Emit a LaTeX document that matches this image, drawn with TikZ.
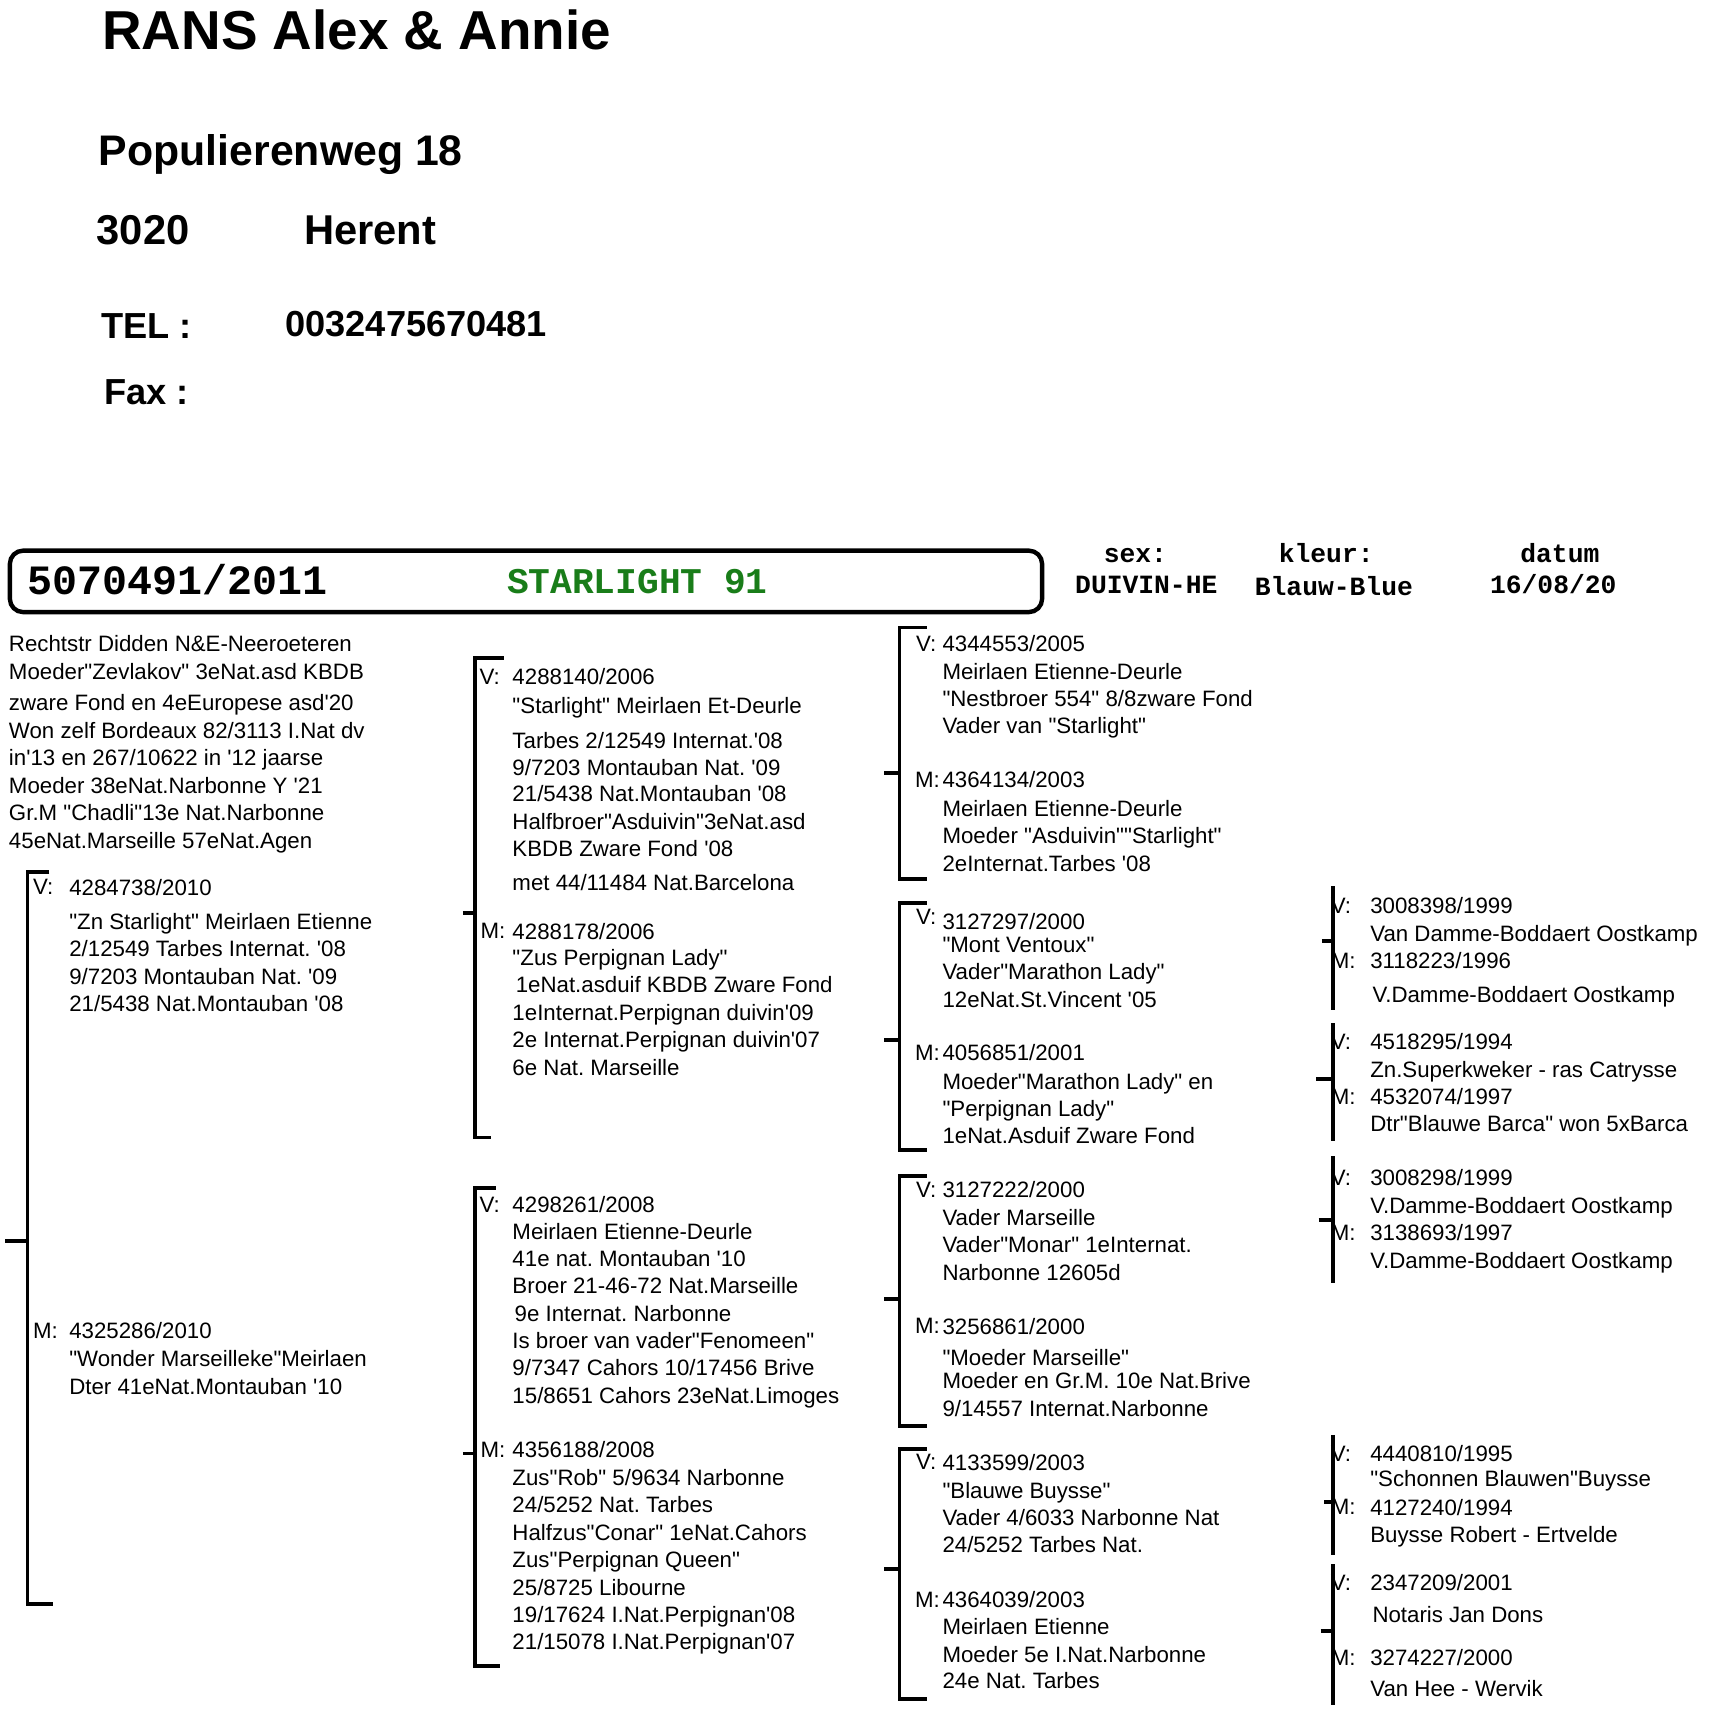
\documentclass[tikz,border=0pt]{standalone}
\usepackage{fontspec}
\setmainfont{Liberation Sans}[Ligatures=TeXOff]
\newfontfamily\typewr{Liberation Mono}[Ligatures=TeXOff]
\usetikzlibrary{positioning}
\frenchspacing
\definecolor{namegreen}{RGB}{25,125,25}
\tikzset{
  txt/.style={anchor=north west, yshift=14.8pt, inner sep=0pt, align=left, font=\fontsize{20.3}{25}\selectfont},
  lbl/.style={anchor=base west, inner sep=0pt, font=\fontsize{20.3}{25}\selectfont},
  head/.style={anchor=base west, inner sep=0pt, font=\bfseries\fontsize{#1}{#1}\selectfont},
  mono/.style={anchor=base, inner sep=0pt, font=\typewr\bfseries\fontsize{#1}{#1}\selectfont},
  brk/.style={line width=3.5pt},
}

\begin{document}
\begin{tikzpicture}[x=1pt, y=-1pt]
  \useasboundingbox (0,0) rectangle (1568,1560);
  % kop
  \node[head=50] (naam) at (93,45) {RANS Alex \& Annie};
  \node[head=39] (straat) at (90,151) {Populierenweg 18};
  \node[head=38] (post) at (88,223) {3020};
  \node[head=38] (stad) at (277,223) {Herent};
  \node[head=33] (tel) at (92,309) {TEL :};
  \node[head=33] (telnr) at (260,307) {0032475670481};
  \node[head=33] (fax) at (95,369) {Fax :};

  % ring en naam
  \node[draw, line width=4pt, rounded corners=12pt, minimum width=941pt, minimum height=56pt,
    inner sep=0pt] (kader) at (479.5,530) {};
  \node[mono=38, anchor=base west] (ring) at (25,542) {5070491/2011};
  \node[mono=33, anchor=base west, text=namegreen] (duif) at (462,541) {STARLIGHT 91};
  \node[mono=24] (sex) at (1035,513) {sex:};
  \node[mono=24] (kleur) at (1209,513) {kleur:};
  \node[mono=24] (datum) at (1422,513) {datum};
  \node[mono=24] (sexw) at (1045,541) {DUIVIN-HE};
  \node[mono=24] (kleurw) at (1216,543) {Blauw-Blue};
  \node[mono=24] (datumw) at (1416,541) {16/08/20};

  % kolom 1
  \node[txt] (info) at (8,594) {Rechtstr Didden N\&E-Neeroeteren\\ Moeder"Zevlakov" 3eNat.asd KBDB\\[4pt]
    zware Fond en 4eEuropese asd'20\\ Won zelf Bordeaux 82/3113 I.Nat dv\\ in'13 en 267/10622 in '12 jaarse\\
    Moeder 38eNat.Narbonne Y '21\\ Gr.M "Chadli"13e Nat.Narbonne\\ 45eNat.Marseille 57eNat.Agen};
  \node[lbl] (vl) at (30,815) {V:};
  \node[txt] (v) at (63,816) {4284738/2010\\[6pt] "Zn Starlight" Meirlaen Etienne\\ 2/12549 Tarbes Internat. '08\\
    9/7203 Montauban Nat. '09\\ 21/5438 Nat.Montauban '08};
  \node[lbl] (ml) at (30,1220) {M:};
  \node[txt] (m) at (63,1220) {4325286/2010\\[1pt] "Wonder Marseilleke"Meirlaen\\ Dter 41eNat.Montauban '10};

  % kolom 2
  \node[lbl] (vvl) at (437,624) {V:};
  \node[txt] (vv) at (467,624) {4288140/2006\\[1pt] "Starlight" Meirlaen Et-Deurle\\[7pt] Tarbes 2/12549 Internat.'08\\
    9/7203 Montauban Nat. '09\\[-1pt] 21/5438 Nat.Montauban '08\\ Halfbroer"Asduivin"3eNat.asd\\
    KBDB Zware Fond '08\\[6pt] met 44/11484 Nat.Barcelona};
  \node[lbl] (vml) at (438,856) {M:};
  \node[txt] (vm) at (467,856) {4288178/2006\\[-1pt] "Zus Perpignan Lady"\\ \hspace*{3pt}1eNat.asduif KBDB Zware Fond\\
    1eInternat.Perpignan duivin'09\\ 2e Internat.Perpignan duivin'07\\ 6e Nat. Marseille};
  \node[lbl] (mvl) at (437,1105) {V:};
  \node[txt] (mv) at (467,1105) {4298261/2008\\ Meirlaen Etienne-Deurle\\[-1pt] 41e nat. Montauban '10\\
    Broer 21-46-72 Nat.Marseille\\[1pt] \hspace*{2pt}9e Internat. Narbonne\\[-1pt] Is broer van vader"Fenomeen"\\
    9/7347 Cahors 10/17456 Brive\\ 15/8651 Cahors 23eNat.Limoges};
  \node[lbl] (mml) at (438,1329) {M:};
  \node[txt] (mm) at (467,1329) {4356188/2008\\ Zus"Rob" 5/9634 Narbonne\\ 24/5252 Nat. Tarbes\\
    Halfzus"Conar" 1eNat.Cahors\\ Zus"Perpignan Queen"\\ 25/8725 Libourne\\ 19/17624 I.Nat.Perpignan'08\\
    21/15078 I.Nat.Perpignan'07};

  % kolom 3
  \node[lbl] (vvvl) at (835,594) {V:};
  \node[txt] (vvv) at (859,594) {4344553/2005\\ Meirlaen Etienne-Deurle\\ "Nestbroer 554" 8/8zware Fond\\
    Vader van "Starlight"};
  \node[lbl] (vvml) at (834,718) {M:};
  \node[txt] (vvm) at (859,718) {4364134/2003\\[1pt] Meirlaen Etienne-Deurle\\ Moeder "Asduivin""Starlight"\\
    2eInternat.Tarbes '08};
  \node[lbl] (vmvl) at (835,843) {V:};
  \node[txt] (vmv) at (859,847) {3127297/2000\\[-4pt] "Mont Ventoux"\\ Vader"Marathon Lady"\\ 12eNat.St.Vincent '05};
  \node[lbl] (vmml) at (834,967) {M:};
  \node[txt] (vmm) at (859,967) {4056851/2001\\[1pt] Moeder"Marathon Lady" en\\ "Perpignan Lady"\\[-1pt]
    1eNat.Asduif Zware Fond};
  \node[lbl] (mvvl) at (835,1092) {V:};
  \node[txt] (mvv) at (859,1092) {3127222/2000\\ Vader Marseille\\ Vader"Monar" 1eInternat.\\ Narbonne 12605d};
  \node[lbl] (mvml) at (834,1216) {M:};
  \node[txt] (mvm) at (859,1216) {3256861/2000\\[4pt] "Moeder Marseille"\\[-4pt] Moeder en Gr.M. 10e Nat.Brive\\
    9/14557 Internat.Narbonne};
  \node[lbl] (mmvl) at (835,1340) {V:};
  \node[txt] (mmv) at (859,1340) {4133599/2003\\[1pt] "Blauwe Buysse"\\ Vader 4/6033 Narbonne Nat\\[-1pt]
    24/5252 Tarbes Nat.};
  \node[lbl] (mmml) at (834,1465) {M:};
  \node[txt] (mmm) at (859,1465) {4364039/2003\\ Meirlaen Etienne\\ Moeder 5e I.Nat.Narbonne\\[-1pt] 24e Nat. Tarbes};

  % kolom 4
  \node[lbl] (e1vl) at (1213,833) {V:};
  \node[txt] (e1v) at (1249,833) {3008398/1999\\ Van Damme-Boddaert Oostkamp};
  \node[lbl] (e1ml) at (1213,883) {M:};
  \node[txt] (e1m) at (1249,883) {3118223/1996\\[6pt] \hspace*{2pt}V.Damme-Boddaert Oostkamp};
  \node[lbl] (e2vl) at (1213,957) {V:};
  \node[txt] (e2v) at (1249,957) {4518295/1994\\ Zn.Superkweker - ras Catrysse};
  \node[lbl] (e2ml) at (1213,1007) {M:};
  \node[txt] (e2m) at (1249,1007) {4532074/1997\\[-1pt] Dtr"Blauwe Barca" won 5xBarca};
  \node[lbl] (e3vl) at (1213,1081) {V:};
  \node[txt] (e3v) at (1249,1081) {3008298/1999\\ V.Damme-Boddaert Oostkamp};
  \node[lbl] (e3ml) at (1213,1131) {M:};
  \node[txt] (e3m) at (1249,1131) {3138693/1997\\ V.Damme-Boddaert Oostkamp};
  \node[lbl] (e4vl) at (1213,1332) {V:};
  \node[txt] (e4v) at (1249,1332) {4440810/1995\\[-2pt] "Schonnen Blauwen"Buysse};
  \node[lbl] (e4ml) at (1213,1381) {M:};
  \node[txt] (e4m) at (1249,1381) {4127240/1994\\ Buysse Robert - Ertvelde};
  \node[lbl] (e5vl) at (1213,1450) {V:};
  \node[txt] (e5v) at (1249,1450) {2347209/2001\\[4pt] \hspace*{2pt}Notaris Jan Dons};
  \node[lbl] (e5ml) at (1213,1518) {M:};
  \node[txt] (e5m) at (1249,1518) {3274227/2000\\[3pt] Van Hee - Wervik};

  % haken: x / boven / midden / onder / tik boven / tik onder / tik links
  \foreach \x/\t/\m/\b/\tt/\tb/\tl in {25/795/1131/1462/45/48/5, 433/600/832/1037/459/448/422,
      433/1083/1325/1519/452/456/422, 820/572/705/801/845/845/806, 820/823/948/1048/845/845/806,
      820/1072/1184/1300/845/845/806, 820/1321/1430/1549/845/845/806}
    \draw[brk] (\tt,\t) -| (\x,\b) -- (\tb,\b) (\tl,\m) -- (\x,\m);
  \foreach \t/\m/\b/\tl in {808/858/921/1205, 933/984/1040/1200, 1054/1112/1170/1202,
      1308/1369/1418/1207, 1426/1487/1554/1204}
    \draw[brk] (1215,\t) -- (1215,\b) (\tl,\m) -- (1215,\m);
\end{tikzpicture}
\end{document}
